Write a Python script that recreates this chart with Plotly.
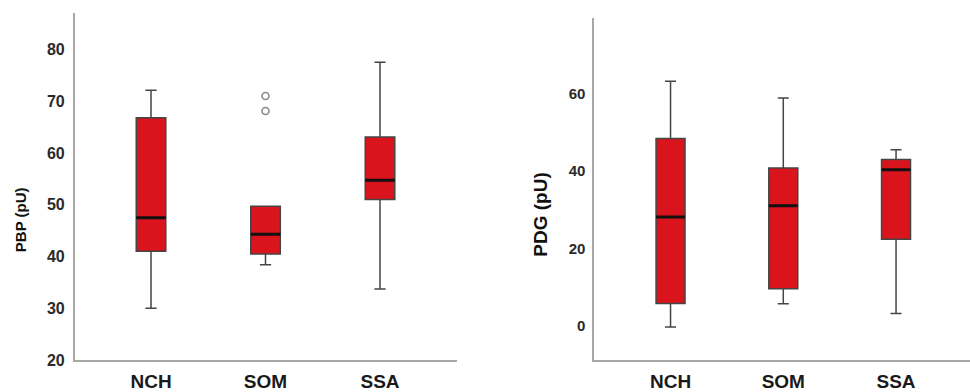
import plotly.graph_objects as go

categories = ["NCH", "SOM", "SSA"]

# PBP (left panel) box statistics
pbp_lower = [30.0, 38.4, 33.7]
pbp_q1 = [41.0, 40.5, 51.0]
pbp_median = [47.5, 44.3, 54.7]
pbp_q3 = [66.8, 49.7, 63.1]
pbp_upper = [72.1, 49.7, 77.5]
pbp_outlier_x = ["SOM", "SOM"]
pbp_outlier_y = [71.0, 68.1]

# PDG (right panel) box statistics
pdg_lower = [-0.3, 5.7, 3.2]
pdg_q1 = [5.8, 9.6, 22.4]
pdg_median = [28.1, 31.0, 40.3]
pdg_q3 = [48.4, 40.8, 43.0]
pdg_upper = [63.2, 58.9, 45.5]

pbp_ticks = [20, 30, 40, 50, 60, 70, 80]
pdg_ticks = [0, 20, 40, 60]

RED = "#da141d"
EDGE = "#454545"
FONT = "Liberation Sans, Arial, sans-serif"

fig = go.Figure()


def add_panel(xa, ya, q1, med, q3, lo, hi, width):
    fig.add_trace(go.Box(
        x=categories, q1=q1, median=med, q3=q3, lowerfence=lo, upperfence=hi,
        fillcolor=RED, line=dict(color=EDGE, width=1.5), width=width,
        whiskerwidth=0.38, boxpoints=False, xaxis=xa, yaxis=ya,
        showlegend=False, hoverinfo="skip"))
    # thick median line overlay
    fig.add_trace(go.Box(
        x=categories, q1=med, median=med, q3=med, lowerfence=med, upperfence=med,
        fillcolor="rgba(0,0,0,0)", line=dict(color="#111111", width=3), width=width,
        whiskerwidth=0, boxpoints=False, xaxis=xa, yaxis=ya,
        showlegend=False, hoverinfo="skip"))


add_panel("x", "y", pbp_q1, pbp_median, pbp_q3, pbp_lower, pbp_upper, 0.258)
add_panel("x2", "y2", pdg_q1, pdg_median, pdg_q3, pdg_lower, pdg_upper, 0.257)

fig.add_trace(go.Scatter(
    x=pbp_outlier_x, y=pbp_outlier_y, mode="markers", xaxis="x", yaxis="y",
    marker=dict(symbol="circle-open", size=7, color="#8a8a8a", line=dict(width=1.6)),
    showlegend=False, hoverinfo="skip"))

axis_line = dict(showline=True, linecolor="#a8a8a8", linewidth=2, showgrid=False,
                 zeroline=False, ticks="", fixedrange=True)

fig.update_layout(
    width=970, height=392,
    margin=dict(l=0, r=0, t=0, b=29),
    paper_bgcolor="white", plot_bgcolor="white",
    boxmode="overlay",
    xaxis=dict(domain=[0.0773, 0.4711], range=[-0.664, 2.672], type="category",
               categoryorder="array", categoryarray=categories,
               tickfont=dict(family=FONT, size=19, color="#1a1a1a", weight="bold"),
               ticklabelstandoff=3, anchor="y", **axis_line),
    yaxis=dict(domain=[0, 0.9642], range=[20, 87.05], tickvals=pbp_ticks,
               tickfont=dict(family=FONT, size=16, color="#2a2a2a", weight="bold"),
               ticklabelstandoff=5, anchor="x", **axis_line),
    xaxis2=dict(domain=[0.6127, 1.0], range=[-0.676, 2.656], type="category",
                categoryorder="array", categoryarray=categories,
                tickfont=dict(family=FONT, size=19, color="#1a1a1a", weight="bold"),
                ticklabelstandoff=3, anchor="y2", **axis_line),
    yaxis2=dict(domain=[0, 0.9496], range=[-8.82, 79.5], tickvals=pdg_ticks,
                tickfont=dict(family=FONT, size=15, color="#2a2a2a", weight="bold"),
                ticklabelstandoff=4, anchor="x2", **axis_line),
    annotations=[
        dict(text="PBP (pU)", textangle=-90, xref="paper", yref="paper",
             x=20 / 970, y=(363 - 222) / 363, showarrow=False,
             xanchor="center", yanchor="middle",
             font=dict(family=FONT, size=15, color="#111111", weight="bold")),
        dict(text="PDG (pU)", textangle=-90, xref="paper", yref="paper",
             x=541 / 970, y=(363 - 216.5) / 363, showarrow=False,
             xanchor="center", yanchor="middle",
             font=dict(family=FONT, size=19, color="#111111", weight="bold")),
    ],
)

fig.write_html("out.html",
               config={"displayModeBar": False},
               post_script="document.body.style.margin='0';document.body.style.overflow='hidden';")
